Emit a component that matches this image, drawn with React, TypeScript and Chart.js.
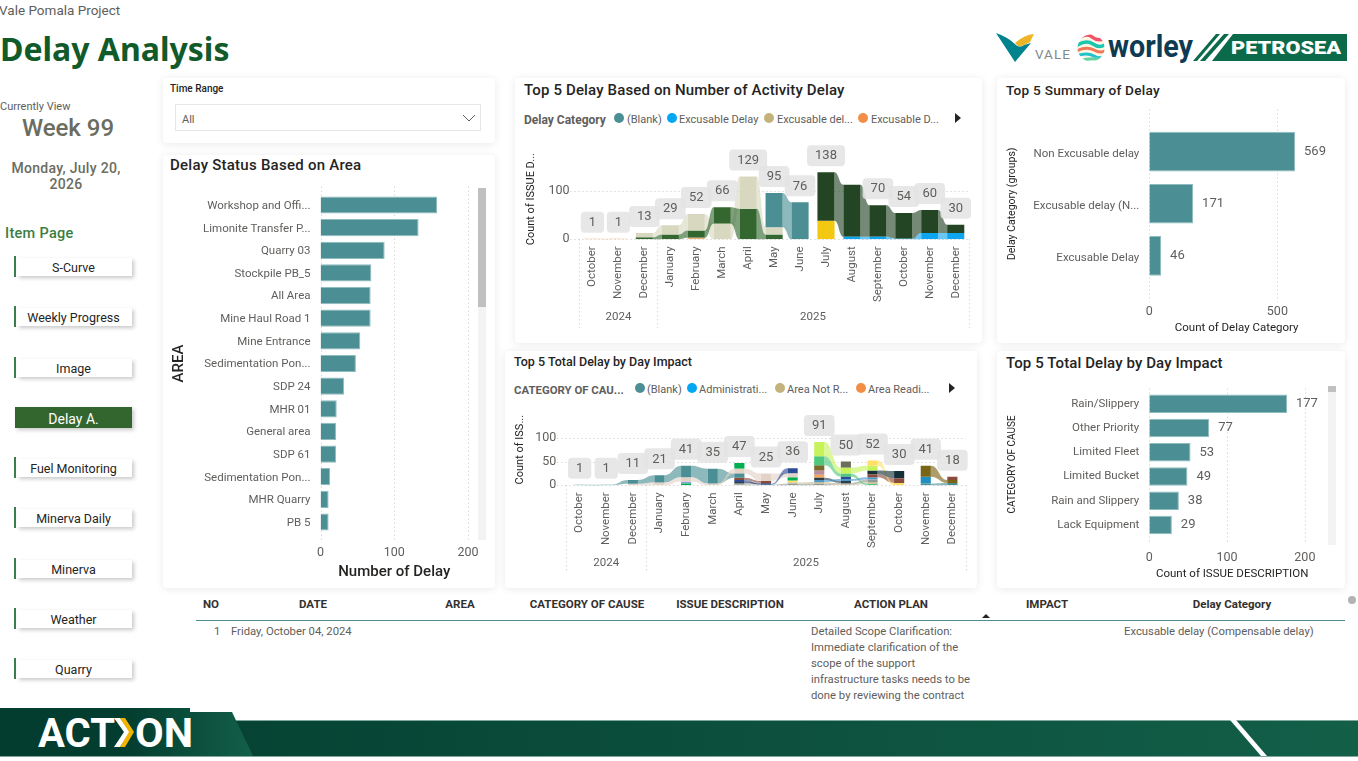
import { useEffect, useRef } from "react"
import { Chart, registerables } from "chart.js"

Chart.register(...registerables)

const FONT = "Roboto, 'Noto Sans', sans-serif"
const GREY = "#605e5c"
const INK = "#252423"
const TEAL = "#4b8f94"

// ---- horizontal bar charts ----
const areaLabels = ["Workshop and Offi...", "Limonite Transfer P...", "Quarry 03", "Stockpile PB_5", "All Area", "Mine Haul Road 1", "Mine Entrance", "Sedimentation Pon...", "SDP 24", "MHR 01", "General area", "SDP 61", "Sedimentation Pon...", "MHR Quarry", "PB 5"]
const areaValues = [158, 133, 87, 69, 68, 68, 54, 48, 32, 22, 21, 21, 13, 11, 11]
const areaTicks = [0, 100, 200]

const summaryLabels = ["Non Excusable delay", "Excusable delay (N...", "Excusable Delay"]
const summaryValues = [569, 171, 46]
const summaryTicks = [0, 500]

const causeLabels = ["Rain/Slippery", "Other Priority", "Limited Fleet", "Limited Bucket", "Rain and Slippery", "Lack Equipment"]
const causeValues = [177, 77, 53, 49, 38, 29]
const causeTicks = [0, 100, 200]

// ---- ribbon charts ----
const months = ["October", "November", "December", "January", "February", "March", "April", "May", "June", "July", "August", "September", "October", "November", "December"]
const years = ["2024", "2025"]
const yearStarts = [0, 3]

const activityTicks = [0, 100]
const activityTotals = [1, 1, 13, 29, 52, 66, 129, 95, 76, 138, null, 70, 54, 60, 30]
const actBlank = [0, 0, 0, 0, 0, 0, 0, 70, 76, 0, 0, 0, 0, 0, 0]
const actExcusable = [0, 0, 0, 0, 0, 0, 0, 0, 0, 0, 5, 5, 1, 13, 13]
const actExcusableDel = [0, 0, 9, 19, 34, 32, 66, 15, 0, 0, 0, 0, 0, 0, 0]
const actExcusableD = [1, 1, 0, 0, 3, 0, 0, 0, 0, 0, 0, 0, 0, 0, 0]
const actGreen = [0, 0, 4, 10, 15, 34, 63, 10, 0, 0, 0, 0, 0, 0, 0]
const actDark = [0, 0, 0, 0, 0, 0, 0, 0, 0, 100, 107, 65, 53, 47, 17]
const actYellow = [0, 0, 0, 0, 0, 0, 0, 0, 0, 38, 0, 0, 0, 0, 0]

const activitySeries = [
  { label: "(Blank)", color: "#4b8f94", values: actBlank },
  { label: "Excusable Delay", color: "#0ea5f0", values: actExcusable },
  { label: "Excusable del...", color: "#d8d8c0", values: actExcusableDel },
  { label: "Excusable D...", color: "#e8b27a", values: actExcusableD },
  { label: "Non Excusable", color: "#33672f", values: actGreen },
  { label: "Non Excusable delay", color: "#234524", values: actDark },
  { label: "Other", color: "#f2c811", values: actYellow },
]

const causeMonthTicks = [0, 50, 100]
const causeTotals = [1, 1, 11, 21, 41, 35, 47, 25, 36, 91, 50, 52, 30, 41, 18]
const cTeal = [1, 1, 8, 15, 24, 31, 9, 0, 0, 0, 0, 0, 0, 4, 5]
const cBeige = [0, 0, 3, 6, 9, 4, 10, 16, 8, 0, 0, 0, 0, 0, 0]
const cGreen = [0, 0, 0, 0, 4, 0, 12, 0, 7, 0, 0, 0, 0, 0, 0]
const cLavender = [0, 0, 0, 0, 4, 0, 0, 0, 0, 0, 0, 0, 0, 0, 0]
const cBrown = [0, 0, 0, 0, 0, 0, 5, 4, 0, 0, 0, 6, 10, 0, 7]
const cNavy = [0, 0, 0, 0, 0, 0, 4, 2, 11, 0, 5, 0, 0, 0, 0]
const cSlate = [0, 0, 0, 0, 0, 0, 3, 2, 0, 5, 4, 0, 0, 0, 0]
const cGrey = [0, 0, 0, 0, 0, 0, 2, 1, 3, 3, 3, 5, 0, 0, 0]
const cSand = [0, 0, 0, 0, 0, 0, 2, 0, 3, 4, 2, 4, 0, 0, 0]
const cYellow = [0, 0, 0, 0, 0, 0, 0, 0, 4, 0, 0, 11, 5, 0, 0]
const cLime = [0, 0, 0, 0, 0, 0, 0, 0, 0, 30, 12, 10, 0, 0, 0]
const cMint = [0, 0, 0, 0, 0, 0, 0, 0, 0, 19, 7, 3, 0, 0, 0]
const cOlive = [0, 0, 0, 0, 0, 0, 0, 0, 0, 11, 0, 0, 0, 0, 0]
const cMauve = [0, 0, 0, 0, 0, 0, 0, 0, 0, 9, 0, 0, 0, 0, 0]
const cOrange = [0, 0, 0, 0, 0, 0, 0, 0, 0, 6, 0, 0, 0, 0, 0]
const cSky = [0, 0, 0, 0, 0, 0, 0, 0, 0, 4, 4, 5, 0, 0, 0]
const cGraphite = [0, 0, 0, 0, 0, 0, 0, 0, 0, 0, 13, 0, 0, 0, 0]
const cBlack = [0, 0, 0, 0, 0, 0, 0, 0, 0, 0, 0, 8, 15, 0, 0]
const cGold = [0, 0, 0, 0, 0, 0, 0, 0, 0, 0, 0, 0, 0, 23, 6]
const cCerulean = [0, 0, 0, 0, 0, 0, 0, 0, 0, 0, 0, 0, 0, 14, 0]

const causeSeries = [
  { label: "(Blank)", color: "#4b8f94", values: cTeal },
  { label: "Administrati...", color: "#e3d3c7", values: cBeige },
  { label: "Area Not R...", color: "#00b050", values: cGreen },
  { label: "Area Readi...", color: "#8fa3e0", values: cLavender },
  { label: "Brown", color: "#8a4a3c", values: cBrown },
  { label: "Navy", color: "#2d4a96", values: cNavy },
  { label: "Slate", color: "#2f3d4a", values: cSlate },
  { label: "Grey", color: "#8f9a94", values: cGrey },
  { label: "Sand", color: "#c9bd98", values: cSand },
  { label: "Yellow", color: "#ffe066", values: cYellow },
  { label: "Lime", color: "#c6f25a", values: cLime },
  { label: "Mint", color: "#4dc87c", values: cMint },
  { label: "Olive", color: "#7a6a2a", values: cOlive },
  { label: "Mauve", color: "#b98c9f", values: cMauve },
  { label: "Orange", color: "#f2a65a", values: cOrange },
  { label: "Sky", color: "#4a97c9", values: cSky },
  { label: "Graphite", color: "#6b6f5a", values: cGraphite },
  { label: "Black", color: "#14313a", values: cBlack },
  { label: "Gold", color: "#7a6415", values: cGold },
  { label: "Cerulean", color: "#1f8fc0", values: cCerulean },
]

// ---- page text ----
const navItems = ["S-Curve", "Weekly Progress", "Image", "Delay A.", "Fuel Monitoring", "Minerva Daily", "Minerva", "Weather", "Quarry"]
const navCenters = [267, 317, 368, 418, 468, 518, 569, 619, 669]
const tableHeads = ["NO", "DATE", "AREA", "CATEGORY OF CAUSE", "ISSUE DESCRIPTION", "ACTION PLAN", "IMPACT", "Delay Category"]
const tableHeadCenters = [211, 313, 460, 587, 730, 891, 1047, 1232]
const actionPlanLines = ["Detailed Scope Clarification:", "Immediate clarification of the", "scope of the support", "infrastructure tasks needs to be", "done by reviewing the contract"]

// Power BI ribbon order: inside each month the largest series sits on top
function rankStack(series: { values: number[] }[]) {
  const out = series.map(() => [] as ([number, number] | null)[])
  months.forEach((_, m) => {
    const order = series.map((s, i) => i).sort((a, b) => series[a].values[m] - series[b].values[m])
    let base = 0
    order.forEach((i) => {
      const v = series[i].values[m]
      out[i][m] = v > 0 ? [base, base + v] : null
      if (v > 0) base += v
    })
  })
  return out
}

const dottedGrid = {
  id: "dottedGrid",
  beforeDatasetsDraw(chart: any, _args: any, opts: any) {
    const { ctx, chartArea } = chart
    const scale = chart.scales[opts.axis]
    ctx.save()
    ctx.strokeStyle = "#c8c6c4"
    ctx.setLineDash([1, 3])
    ctx.lineWidth = 1
    scale.ticks.forEach((t: any) => {
      const p = Math.round(scale.getPixelForValue(t.value)) + 0.5
      ctx.beginPath()
      if (opts.axis === "x") {
        ctx.moveTo(p, chartArea.top - opts.before)
        ctx.lineTo(p, chartArea.bottom + opts.after)
      } else {
        ctx.moveTo(chartArea.left - opts.before, p)
        ctx.lineTo(chartArea.right + opts.after, p)
      }
      ctx.stroke()
    })
    ctx.restore()
  },
}

// sigmoid bands between the same series in neighbouring months
const ribbons = {
  id: "ribbons",
  beforeDatasetsDraw(chart: any) {
    const { ctx } = chart
    ctx.save()
    chart.data.datasets.forEach((ds: any, i: number) => {
      const bars = chart.getDatasetMeta(i).data
      ctx.fillStyle = ds.backgroundColor + "a0"
      for (let m = 0; m < bars.length - 1; m++) {
        if (!ds.data[m] || !ds.data[m + 1]) continue
        const a = bars[m]
        const b = bars[m + 1]
        const x0 = a.x + a.width / 2
        const x1 = b.x - b.width / 2
        const mid = (x0 + x1) / 2
        ctx.beginPath()
        ctx.moveTo(x0, a.y)
        ctx.bezierCurveTo(mid, a.y, mid, b.y, x1, b.y)
        ctx.lineTo(x1, b.base)
        ctx.bezierCurveTo(mid, b.base, mid, a.base, x0, a.base)
        ctx.closePath()
        ctx.fill()
      }
    })
    ctx.restore()
  },
}

// month totals in grey pills, plus the year row under the months
const ribbonDecor = {
  id: "ribbonDecor",
  afterDatasetsDraw(chart: any, _args: any, opts: any) {
    const { ctx, scales } = chart
    const { x, y } = scales
    const band = x.getPixelForValue(1) - x.getPixelForValue(0)
    ctx.save()
    ctx.textAlign = "center"
    ctx.textBaseline = "middle"
    ctx.font = `13px ${FONT}`
    opts.totals.forEach((v: number | null, m: number) => {
      if (v === null) return
      const cx = x.getPixelForValue(m)
      const bottom = y.getPixelForValue(v) - 6
      const w = ctx.measureText(String(v)).width + 16
      ctx.fillStyle = "rgba(228,228,228,0.88)"
      ctx.beginPath()
      ctx.roundRect(cx - w / 2, bottom - 21, w, 21, 4)
      ctx.fill()
      ctx.fillStyle = GREY
      ctx.fillText(String(v), cx, bottom - 10)
    })
    ctx.strokeStyle = "#c8c6c4"
    ctx.setLineDash([1, 3])
    const edges = [...yearStarts, months.length]
    edges.forEach((m) => {
      const p = Math.round(x.getPixelForValue(m) - band / 2) + 0.5
      ctx.beginPath()
      ctx.moveTo(p, y.getPixelForValue(0))
      ctx.lineTo(p, opts.sepBottom)
      ctx.stroke()
    })
    ctx.font = `11.5px ${FONT}`
    ctx.fillStyle = GREY
    years.forEach((label, i) => {
      const c = (x.getPixelForValue(edges[i]) + x.getPixelForValue(edges[i + 1] - 1)) / 2
      ctx.fillText(label, c, opts.yearY)
    })
    ctx.restore()
  },
}

const barValues = {
  id: "barValues",
  afterDatasetsDraw(chart: any) {
    const { ctx } = chart
    ctx.save()
    ctx.font = `13px ${FONT}`
    ctx.fillStyle = GREY
    ctx.textBaseline = "middle"
    chart.getDatasetMeta(0).data.forEach((bar: any, i: number) => {
      ctx.fillText(String(chart.data.datasets[0].data[i]), bar.x + 9, bar.y)
    })
    ctx.restore()
  },
}

interface HBarProps {
  labels: string[]
  values: number[]
  tickValues: number[]
  box: { left: number; top: number; width: number; height: number }
  plot: { x0: number; y0: number; x1: number; y1: number }
  max: number
  yTitle: { text: string; size: number; x: number; weight?: number }
  xTitle: { text: string; size: number; y: number; weight?: number }
  grid: { before: number; after: number }
  tickY: number
  labelOffset?: number
  showValues?: boolean
}

function HBarChart({ labels, values, tickValues, box, plot, max, yTitle, xTitle, grid, tickY, labelOffset = 0, showValues }: HBarProps) {
  const ref = useRef<HTMLCanvasElement>(null)

  useEffect(() => {
    if (!ref.current) return
    const titlePad = box.top + box.height - xTitle.y - xTitle.size * 0.6
    const chart = new Chart(ref.current, {
      type: "bar",
      data: {
        labels,
        datasets: [{ data: values, backgroundColor: TEAL, borderColor: "#8fbcbf", borderWidth: 1, barPercentage: 0.76, categoryPercentage: 1 }],
      },
      plugins: showValues ? [dottedGrid, barValues] : [dottedGrid],
      options: {
        indexAxis: "y",
        responsive: false,
        animation: false,
        layout: { padding: { left: 0, top: plot.y0 - box.top, right: box.left + box.width - plot.x1, bottom: 0 } },
        plugins: {
          legend: { display: false },
          tooltip: { enabled: false },
          dottedGrid: { axis: "x", before: grid.before, after: grid.after },
        },
        scales: {
          x: {
            min: 0,
            max,
            afterBuildTicks: (s: any) => {
              s.ticks = tickValues.map((value) => ({ value }))
            },
            grid: { display: false, drawTicks: false },
            border: { display: false },
            ticks: { color: GREY, font: { family: FONT, size: 12.5 }, padding: tickY - plot.y1 - 7, maxRotation: 0, autoSkip: false },
            title: { display: true, text: xTitle.text, color: INK, font: { family: FONT, size: xTitle.size, weight: xTitle.weight || 400 }, padding: { top: titlePad, bottom: titlePad } },
            afterFit: (s: any) => {
              s.height = box.top + box.height - plot.y1
            },
          },
          y: {
            grid: { display: false, drawTicks: false },
            border: { display: false },
            ticks: { autoSkip: false, color: GREY, font: { family: FONT, size: 11.5 }, padding: 10, labelOffset },
            title: { display: true, text: yTitle.text, color: INK, font: { family: FONT, size: yTitle.size, weight: yTitle.weight || 400 }, padding: { top: yTitle.x - box.left - yTitle.size * 0.6 + 1, bottom: 0 } },
            afterFit: (s: any) => {
              s.width = plot.x0 - box.left
            },
          },
        },
      } as any,
    })
    return () => chart.destroy()
  }, [])

  return <canvas ref={ref} width={box.width} height={box.height} style={{ position: "absolute", left: box.left, top: box.top }} />
}

interface RibbonProps {
  series: { label: string; color: string; values: number[] }[]
  totals: (number | null)[]
  tickValues: number[]
  box: { left: number; top: number; width: number; height: number }
  plot: { x0: number; y0: number; x1: number; y1: number }
  max: number
  barPercent: number
  yTitle: string
  yTitleX: number
  sepBottom: number
  yearY: number
}

function RibbonChart({ series, totals, tickValues, box, plot, max, barPercent, yTitle, yTitleX, sepBottom, yearY }: RibbonProps) {
  const ref = useRef<HTMLCanvasElement>(null)

  useEffect(() => {
    if (!ref.current) return
    const stacks = rankStack(series)
    const chart = new Chart(ref.current, {
      type: "bar",
      data: {
        labels: months,
        datasets: series.map((s, i) => ({
          label: s.label,
          data: stacks[i],
          backgroundColor: s.color,
          grouped: false,
          barPercentage: barPercent,
          categoryPercentage: 1,
        })),
      },
      plugins: [dottedGrid, ribbons, ribbonDecor],
      options: {
        responsive: false,
        animation: false,
        layout: { padding: { left: 0, top: plot.y0 - box.top, right: box.left + box.width - plot.x1, bottom: 0 } },
        plugins: {
          legend: { display: false },
          tooltip: { enabled: false },
          dottedGrid: { axis: "y", before: 9, after: 0 },
          ribbonDecor: { totals, sepBottom: sepBottom - box.top, yearY: yearY - box.top },
        },
        scales: {
          x: {
            grid: { display: false, drawTicks: false },
            border: { display: false },
            ticks: { autoSkip: false, minRotation: 90, maxRotation: 90, color: GREY, font: { family: FONT, size: 11.5 }, padding: 7 },
            afterFit: (s: any) => {
              s.height = box.top + box.height - plot.y1
            },
          },
          y: {
            min: 0,
            max,
            afterBuildTicks: (s: any) => {
              s.ticks = tickValues.map((value) => ({ value }))
            },
            grid: { display: false, drawTicks: false },
            border: { display: false },
            ticks: { color: GREY, font: { family: FONT, size: 12.5 }, padding: 10, autoSkip: false },
            title: { display: true, text: yTitle, color: INK, font: { family: FONT, size: 11 }, padding: { top: yTitleX - box.left - 5.6, bottom: 0 } },
            afterFit: (s: any) => {
              s.width = plot.x0 - box.left
            },
          },
        },
      } as any,
    })
    return () => chart.destroy()
  }, [])

  return <canvas ref={ref} width={box.width} height={box.height} style={{ position: "absolute", left: box.left, top: box.top }} />
}

function Text({ x, y, size, color = GREY, weight = 400, align = "left", children, spacing = 0, family = FONT }: any) {
  const base: any = { position: "absolute", top: y - 9, lineHeight: "20px", fontSize: size, color, fontWeight: weight, whiteSpace: "nowrap", letterSpacing: spacing, fontFamily: family }
  if (align === "center") {
    base.left = x - 200
    base.width = 400
    base.textAlign = "center"
  } else {
    base.left = x
  }
  return <div style={base}>{children}</div>
}

function Card({ left, top, right, bottom }: any) {
  return <div style={{ position: "absolute", left, top, width: right - left, height: bottom - top, background: "#fff", borderRadius: 4, boxShadow: "0 1px 9px rgba(0,0,0,0.09)" }} />
}

function LegendDot({ x, y, color }: any) {
  return <div style={{ position: "absolute", left: x - 5, top: y - 5, width: 10, height: 10, borderRadius: 5, background: color }} />
}

function Arrow({ x, y }: any) {
  return <div style={{ position: "absolute", left: x - 3, top: y - 5, width: 0, height: 0, borderTop: "5px solid transparent", borderBottom: "5px solid transparent", borderLeft: "6px solid #252423" }} />
}

function ScrollBar({ x, top, bottom, thumbEnd }: any) {
  return (
    <>
      <div style={{ position: "absolute", left: x, top, width: 8, height: bottom - top, background: "#f3f3f3" }} />
      <div style={{ position: "absolute", left: x, top, width: 8, height: thumbEnd - top, background: "#c0c0c0" }} />
    </>
  )
}

function Logos() {
  return (
    <svg width={1358} height={90} style={{ position: "absolute", left: 0, top: 0 }}>
      <defs>
        <clipPath id="blob">
          <circle cx="1091" cy="48" r="13.5" />
        </clipPath>
      </defs>
      <path d="M996 33 Q1008 37 1016 45 Q1020 48 1024 45 L1031 43 L1015 62 Z" fill="#00838c" />
      <path d="M1015 43 Q1024 35 1034 34 L1030 42 Q1022 47 1018 46 Z" fill="#eeb526" />
      <text x="1035" y="59" fontFamily={FONT} fontSize="13.5" fill="#7f8a8c" letterSpacing="1">VALE</text>
      <g clipPath="url(#blob)" fill="none">
        <circle cx="1091" cy="48" r="13.5" fill="#fbf7e4" />
        <path d="M1076 40 Q1086 32 1092 37 T1106 38" stroke="#f0506a" strokeWidth="3.5" />
        <path d="M1076 46 Q1086 39 1093 44 T1106 44" stroke="#19c7b0" strokeWidth="3.5" />
        <path d="M1076 51 Q1087 46 1094 50 T1106 50" stroke="#f2785a" strokeWidth="3" />
        <path d="M1076 56 Q1087 52 1094 56 T1106 55" stroke="#22c2cf" strokeWidth="3" />
        <path d="M1080 61 Q1091 57 1102 60" stroke="#5fd3a4" strokeWidth="3" />
      </g>
      <text x="1108" y="57" fontFamily={FONT} fontSize="31" fontWeight="700" fill="#0e3a52" textLength="85" lengthAdjust="spacingAndGlyphs">worley</text>
      <polygon points="1216,34 1220,34 1197,61 1193,61" fill="#0b6a4a" />
      <polygon points="1224,34 1229,34 1205,61 1200,61" fill="#0b6a4a" />
      <polygon points="1233,34 1347,34 1347,61 1212,61" fill="#0b6a4a" />
      <text x="1231" y="54" fontFamily={FONT} fontSize="18" fontWeight="900" fill="#fff" textLength="110" lengthAdjust="spacingAndGlyphs">PETROSEA</text>
    </svg>
  )
}

function Footer() {
  return (
    <svg width={1358} height={60} style={{ position: "absolute", left: 0, top: 701 }}>
      <defs>
        <linearGradient id="barFill" x1="0" x2="1" y1="0" y2="0">
          <stop offset="0" stopColor="#033d2f" />
          <stop offset="1" stopColor="#135f48" />
        </linearGradient>
        <linearGradient id="tabFill" x1="0" x2="1" y1="0" y2="0">
          <stop offset="0" stopColor="#033d2f" />
          <stop offset="0.5" stopColor="#033d2f" />
          <stop offset="1" stopColor="#135f48" />
        </linearGradient>
      </defs>
      <rect x="0" y="19" width="1358" height="36" fill="url(#barFill)" />
      <rect x="0" y="19" width="1358" height="1" fill="#7fa89a" />
      <rect x="0" y="55" width="1358" height="1" fill="#7fa89a" />
      <polygon points="0,7 190,7 190,11 232,11 253,55 0,55" fill="url(#tabFill)" />
      <polygon points="1230,19 1236,19 1267,55 1261,55" fill="#fff" />
      <text x="38" y="46" fontFamily={FONT} fontSize="40" fontWeight="700" fill="#fff" textLength="77" lengthAdjust="spacingAndGlyphs">ACT</text>
      <polygon points="114,17 120,17 130,31 120,46 114,46 124,31" fill="#fff" />
      <polygon points="120,17 125,17 134,31 125,46 120,46 129,31" fill="#f2b400" />
      <text x="135" y="46" fontFamily={FONT} fontSize="40" fontWeight="700" fill="#fff" textLength="58" lengthAdjust="spacingAndGlyphs">ON</text>
    </svg>
  )
}

export default function App() {
  return (
    <div style={{ position: "fixed", left: 0, top: 0, width: 1358, height: 761, overflow: "hidden", background: "#fff", fontFamily: FONT }}>
      <Text x={-1} y={9} size={13.5}>Vale Pomala Project</Text>
      <Text x={0} y={48} size={32} weight={700} color="#115a2a" family="'Noto Sans', sans-serif">Delay Analysis</Text>
      <Logos />

      <Text x={0} y={106} size={11}>Currently View</Text>
      <Text x={68} y={127} size={24} weight={500} color="#6a6d60" align="center">Week 99</Text>
      <Text x={66} y={167} size={14} weight={500} color="#6a6d60" align="center" spacing={0.3}>Monday, July 20,</Text>
      <Text x={66} y={183} size={14} weight={500} color="#6a6d60" align="center" spacing={0.3}>2026</Text>
      <Text x={5} y={233} size={14.5} weight={500} color="#3b7d3f" spacing={0.3}>Item Page</Text>

      {navItems.map((item, i) => {
        const active = item === "Delay A."
        const cy = navCenters[i]
        return (
          <div key={i}>
            {!active && <div style={{ position: "absolute", left: 14, top: cy - 11, width: 2, height: 21, background: "#3b7d4f" }} />}
            <div style={{ position: "absolute", left: active ? 15 : 17, top: active ? cy - 11 : cy - 9, width: active ? 117 : 115, height: active ? 21 : 18, background: active ? "#33652f" : "#fff", boxShadow: "2px 2px 4px rgba(0,0,0,0.22)" }} />
            <Text x={73.5} y={cy} size={active ? 14 : 12.5} color={active ? "#fff" : INK} align="center">{item}</Text>
          </div>
        )
      })}

      <Card left={163} top={78} right={495} bottom={143} />
      <Card left={163} top={155} right={495} bottom={588} />
      <Card left={515} top={78} right={982} bottom={343} />
      <Card left={505} top={351} right={977} bottom={588} />
      <Card left={997} top={78} right={1345} bottom={343} />
      <Card left={997} top={351} right={1345} bottom={588} />

      <Text x={170} y={88} size={10} weight={500} color={INK}>Time Range</Text>
      <div style={{ position: "absolute", left: 175, top: 104, width: 304, height: 25, border: "1px solid #e6e6e6" }} />
      <Text x={182} y={119} size={11}>All</Text>
      <svg width={14} height={8} style={{ position: "absolute", left: 462, top: 114 }}>
        <path d="M1 1 L7 7 L13 1" stroke="#605e5c" fill="none" />
      </svg>

      <Text x={170} y={164} size={15} weight={500} color={INK} spacing={0.25}>Delay Status Based on Area</Text>
      <HBarChart
        labels={areaLabels}
        values={areaValues}
        tickValues={areaTicks}
        box={{ left: 165, top: 170, width: 330, height: 417 }}
        plot={{ x0: 320.5, y0: 193.7, x1: 468, y1: 533.3 }}
        max={200}
        yTitle={{ text: "AREA", size: 15, x: 178, weight: 500 }}
        xTitle={{ text: "Number of Delay", size: 15, y: 572, weight: 500 }}
        grid={{ before: 7, after: 7 }}
        tickY={552}
        labelOffset={1}
      />
      <ScrollBar x={478} top={188} bottom={540} thumbEnd={307} />

      <Text x={524} y={89} size={15} weight={500} color={INK} spacing={0.15}>Top 5 Delay Based on Number of Activity Delay</Text>
      <Text x={524} y={119} size={12} weight={700}>Delay Category</Text>
      <LegendDot x={619} y={118} color="#4b8f94" />
      <Text x={627} y={119} size={11}>(Blank)</Text>
      <LegendDot x={672} y={118} color="#00a8f4" />
      <Text x={679} y={119} size={11}>Excusable Delay</Text>
      <LegendDot x={769} y={118} color="#c4b27c" />
      <Text x={777} y={119} size={11}>Excusable del...</Text>
      <LegendDot x={863} y={118} color="#f28e45" />
      <Text x={871} y={119} size={11}>Excusable D...</Text>
      <Arrow x={958} y={118} />
      <RibbonChart
        series={activitySeries}
        totals={activityTotals}
        tickValues={activityTicks}
        box={{ left: 516, top: 130, width: 466, height: 205 }}
        plot={{ x0: 579.5, y0: 159, x1: 968.7, y1: 239.3 }}
        max={165}
        barPercent={0.66}
        yTitle="Count of ISSUE D..."
        yTitleX={530}
        sepBottom={328}
        yearY={317.5}
      />

      <Text x={514} y={361} size={12.5} weight={500} color={INK}>Top 5 Total Delay by Day Impact</Text>
      <Text x={514} y={389} size={11.4} weight={700}>CATEGORY OF CAU...</Text>
      <LegendDot x={640} y={388} color="#4b8f94" />
      <Text x={647} y={389} size={11}>(Blank)</Text>
      <LegendDot x={692} y={388} color="#00a8f4" />
      <Text x={699} y={389} size={11}>Administrati...</Text>
      <LegendDot x={780} y={388} color="#c4b27c" />
      <Text x={787} y={389} size={11}>Area Not R...</Text>
      <LegendDot x={861} y={388} color="#f28e45" />
      <Text x={868} y={389} size={11}>Area Readi...</Text>
      <Arrow x={952} y={388} />
      <RibbonChart
        series={causeSeries}
        totals={causeTotals}
        tickValues={causeMonthTicks}
        box={{ left: 506, top: 390, width: 470, height: 195 }}
        plot={{ x0: 566.3, y0: 414, x1: 965.7, y1: 485.3 }}
        max={150}
        barPercent={0.38}
        yTitle="Count of ISS..."
        yTitleX={519}
        sepBottom={573}
        yearY={563}
      />

      <Text x={1006} y={89} size={13.6} weight={500} color={INK} spacing={0.25}>Top 5 Summary of Delay</Text>
      <HBarChart
        labels={summaryLabels}
        values={summaryValues}
        tickValues={summaryTicks}
        box={{ left: 998, top: 100, width: 347, height: 240 }}
        plot={{ x0: 1149.3, y0: 125.6, x1: 1324, y1: 282 }}
        max={682}
        yTitle={{ text: "Delay Category (groups)", size: 10.5, x: 1011 }}
        xTitle={{ text: "Count of Delay Category", size: 11.5, y: 328 }}
        grid={{ before: 16, after: 20 }}
        tickY={311}
        labelOffset={2}
        showValues
      />

      <Text x={1006} y={362} size={15} weight={500} color={INK} spacing={0.1}>Top 5 Total Delay by Day Impact</Text>
      <HBarChart
        labels={causeLabels}
        values={causeValues}
        tickValues={causeTicks}
        box={{ left: 998, top: 370, width: 347, height: 216 }}
        plot={{ x0: 1149.3, y0: 391.6, x1: 1315, y1: 537.2 }}
        max={213}
        yTitle={{ text: "CATEGORY OF CAUSE", size: 10, x: 1011 }}
        xTitle={{ text: "Count of ISSUE DESCRIPTION", size: 11.5, y: 574 }}
        grid={{ before: 3, after: 4.5 }}
        tickY={557}
        showValues
      />
      <ScrollBar x={1328} top={386} bottom={545} thumbEnd={392} />

      {tableHeads.map((h, i) => (
        <Text key={h} x={tableHeadCenters[i]} y={603} size={11.5} weight={700} color="#33312f" align="center">{h}</Text>
      ))}
      <div style={{ position: "absolute", left: 196, top: 620, width: 1149, height: 1, background: TEAL }} />
      <div style={{ position: "absolute", left: 982, top: 614, width: 0, height: 0, borderLeft: "4px solid transparent", borderRight: "4px solid transparent", borderBottom: "4px solid #252423" }} />
      <div style={{ position: "absolute", left: 1348, top: 596, width: 8, height: 8, borderRadius: 4, background: "#b3b3b3" }} />
      <Text x={214} y={631} size={11.3}>1</Text>
      <Text x={231} y={631} size={11.3}>Friday, October 04, 2024</Text>
      {actionPlanLines.map((line, i) => (
        <Text key={i} x={811} y={631 + i * 16} size={11.3}>{line}</Text>
      ))}
      <Text x={1124} y={631} size={11.3}>Excusable delay (Compensable delay)</Text>

      <Footer />
    </div>
  )
}
